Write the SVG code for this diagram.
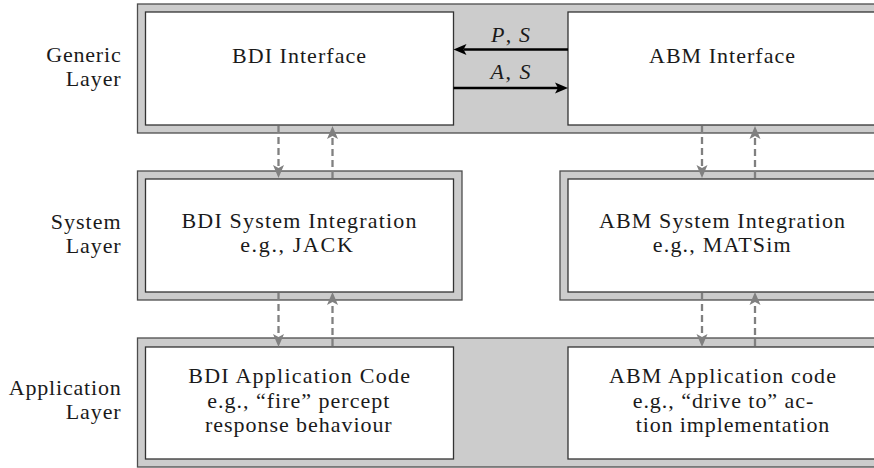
<svg xmlns="http://www.w3.org/2000/svg" width="874" height="468" viewBox="0 0 874 468">
  <style>
    .layer { fill: #cccccc; stroke: #4d4d4d; stroke-width: 1.3; }
    .box { fill: #ffffff; stroke: #333333; stroke-width: 1.3; }
    .t { font-size: 22px; fill: #1a1a1a; }
    .mid { text-anchor: middle; }
    .end { text-anchor: end; }
    .dash { stroke: #808080; stroke-width: 2.3; stroke-dasharray: 7 4; fill: none; }
    .solid { stroke: #000000; stroke-width: 2.3; fill: none; }
  </style>
  <defs>
    <marker id="headBlack" markerUnits="userSpaceOnUse" markerWidth="16" markerHeight="12" refX="3" refY="5.5" orient="auto" overflow="visible">
      <path d="M0,0 L13,5.5 L0,11 L3,5.5 z" fill="#000000"/>
    </marker>
    <marker id="headGray" markerUnits="userSpaceOnUse" markerWidth="16" markerHeight="12" refX="3" refY="5.5" orient="auto" overflow="visible">
      <path d="M0,0 L13,5.5 L0,11 L3,5.5 z" fill="#808080"/>
    </marker>
  </defs>

  <!-- layer labels -->
  <g id="labels">
    <text class="t end" font-family="Liberation Serif, serif" x="120.7" y="62" textLength="74.5">Generic</text>
    <text class="t end" font-family="Liberation Serif, serif" x="120.7" y="86" textLength="55">Layer</text>
    <text class="t end" font-family="Liberation Serif, serif" x="120.7" y="229" textLength="70">System</text>
    <text class="t end" font-family="Liberation Serif, serif" x="120.7" y="253" textLength="55">Layer</text>
    <text class="t end" font-family="Liberation Serif, serif" x="120.7" y="395" textLength="112">Application</text>
    <text class="t end" font-family="Liberation Serif, serif" x="120.7" y="419" textLength="55">Layer</text>
  </g>

  <!-- layer frames -->
  <g id="generic-layer"><rect class="layer" x="137.5" y="4" width="750" height="129"/></g>
  <g id="bdi-system-layer"><rect class="layer" x="137.5" y="171" width="324.5" height="129"/></g>
  <g id="abm-system-layer"><rect class="layer" x="560" y="171" width="330" height="129"/></g>
  <g id="application-layer"><rect class="layer" x="137.5" y="338" width="750" height="129"/></g>

  <!-- nodes -->
  <g id="bdi-interface">
    <rect class="box" x="145.5" y="12" width="308" height="113"/>
    <text class="t mid" font-family="Liberation Serif, serif" x="299" y="63" textLength="134">BDI Interface</text>
  </g>
  <g id="abm-interface">
    <rect class="box" x="568" y="12" width="310" height="113"/>
    <text class="t mid" font-family="Liberation Serif, serif" x="722" y="63" textLength="146">ABM Interface</text>
  </g>
  <g id="bdi-system">
    <rect class="box" x="145.5" y="179" width="308" height="113"/>
    <text class="t mid" font-family="Liberation Serif, serif" x="299" y="227.5" textLength="235">BDI System Integration</text>
    <text class="t mid" font-family="Liberation Serif, serif" x="296.5" y="251.7" textLength="112.7">e.g., JACK</text>
  </g>
  <g id="abm-system">
    <rect class="box" x="568" y="179" width="310" height="113"/>
    <text class="t mid" font-family="Liberation Serif, serif" x="722" y="227.5" textLength="246">ABM System Integration</text>
    <text class="t mid" font-family="Liberation Serif, serif" x="721.7" y="251.7" textLength="138">e.g., MATSim</text>
  </g>
  <g id="bdi-application">
    <rect class="box" x="145.5" y="347" width="308" height="112"/>
    <text class="t" font-family="Liberation Serif, serif" x="188.3" y="383.3" textLength="221.7">BDI Application Code</text>
    <text class="t" font-family="Liberation Serif, serif" x="207.3" y="407.7" textLength="182">e.g., “fire” percept</text>
    <text class="t" font-family="Liberation Serif, serif" x="205" y="432.3" textLength="186.7">response behaviour</text>
  </g>
  <g id="abm-application">
    <rect class="box" x="568" y="347" width="310" height="112"/>
    <text class="t" font-family="Liberation Serif, serif" x="609" y="383.3" textLength="227">ABM Application code</text>
    <text class="t" font-family="Liberation Serif, serif" x="632.7" y="407.7" textLength="180.6">e.g., “drive to” ac-</text>
    <text class="t" font-family="Liberation Serif, serif" x="635.7" y="432.3" textLength="193.6">tion implementation</text>
  </g>

  <!-- connectors -->
  <g id="connectors">
    <line class="solid" x1="568" y1="49.5" x2="463.5" y2="49.5" marker-end="url(#headBlack)"/>
    <line class="solid" x1="453.5" y1="88" x2="558" y2="88" marker-end="url(#headBlack)"/>
    <text class="t mid" font-family="Liberation Serif, serif" x="510.5" y="41.7" textLength="39"><tspan font-style="italic">P</tspan>, <tspan font-style="italic">S</tspan></text>
    <text class="t mid" font-family="Liberation Serif, serif" x="510.5" y="79.3" textLength="40"><tspan font-style="italic">A</tspan>, <tspan font-style="italic">S</tspan></text>

    <line class="dash" x1="278.5" y1="126" x2="278.5" y2="168" marker-end="url(#headGray)"/>
    <line class="dash" x1="332.5" y1="178" x2="332.5" y2="136" marker-end="url(#headGray)"/>
    <line class="dash" x1="702" y1="126" x2="702" y2="168" marker-end="url(#headGray)"/>
    <line class="dash" x1="755" y1="178" x2="755" y2="136" marker-end="url(#headGray)"/>

    <line class="dash" x1="278.5" y1="293" x2="278.5" y2="337" marker-end="url(#headGray)"/>
    <line class="dash" x1="332.5" y1="346" x2="332.5" y2="302" marker-end="url(#headGray)"/>
    <line class="dash" x1="702" y1="293" x2="702" y2="337" marker-end="url(#headGray)"/>
    <line class="dash" x1="755" y1="346" x2="755" y2="302" marker-end="url(#headGray)"/>
  </g>
</svg>
